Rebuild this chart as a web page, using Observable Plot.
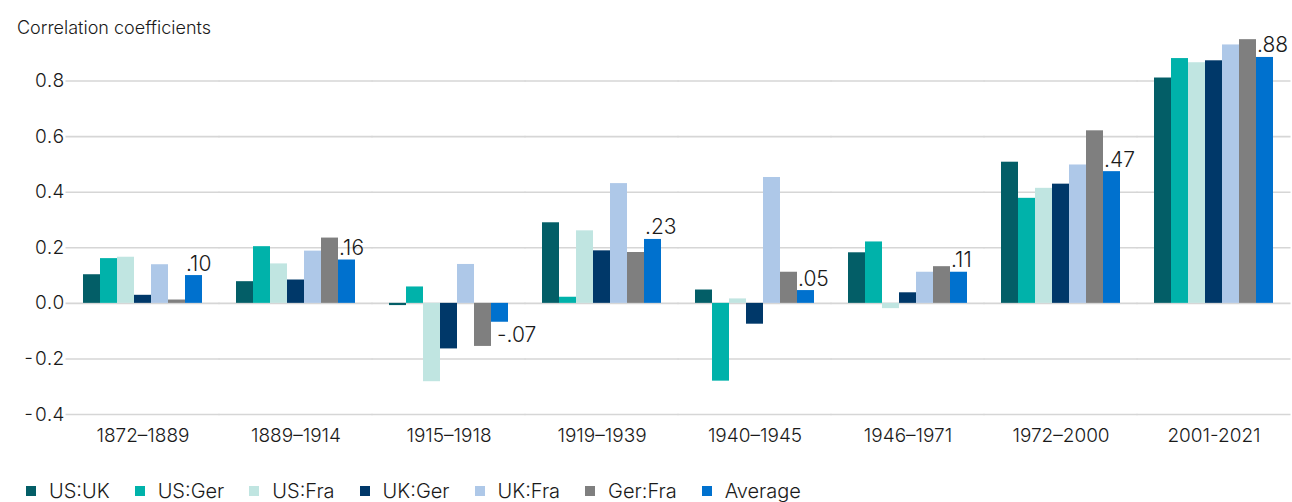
<!DOCTYPE html>
<html>
<head>
<meta charset="utf-8">
<script src="https://cdn.jsdelivr.net/npm/d3@7"></script>
<script src="https://cdn.jsdelivr.net/npm/@observablehq/plot@0.6"></script>
<style>
  body { margin: 0; background: #fff; font-family: Inter, "Liberation Sans", Arial, sans-serif; color: #1a1a1a; }
  #wrap { position: relative; width: 1292px; height: 502px; overflow: hidden; }
  #chart { position: absolute; left: 0; top: 0; }
  #title { position: absolute; left: 17px; top: 17px; font-size: 18px; font-weight: 300; color: #1a1a1a; }
  #legend { position: absolute; left: 26px; top: 479px; display: flex; align-items: center; font-size: 20px; font-weight: 300; color: #1a1a1a; line-height: 24px; }
  .item { display: flex; align-items: center; margin-right: 25px; }
  .sw { width: 10px; height: 10px; margin-right: 13px; }
  #chart svg text { font-weight: 300; }
</style>
</head>
<body>
<div id="wrap">
  <div id="chart"></div>
  <div id="title">Correlation coefficients</div>
  <div id="legend"></div>
</div>
<script>
const periods = ["1872–1889", "1889–1914", "1915–1918", "1919–1939", "1940–1945", "1946–1971", "1972–2000", "2001-2021"];
const series = ["US:UK", "US:Ger", "US:Fra", "UK:Ger", "UK:Fra", "Ger:Fra", "Average"];
const colors = ["#035e67", "#00b2aa", "#c0e5e1", "#003869", "#aec8e8", "#7f7f7f", "#0071ce"];

const usUK    = [0.103, 0.078, -0.008, 0.290,  0.048,  0.182, 0.508, 0.811];
const usGer   = [0.161, 0.204,  0.059, 0.022, -0.280,  0.221, 0.378, 0.881];
const usFra   = [0.166, 0.142, -0.282, 0.261,  0.016, -0.019, 0.414, 0.866];
const ukGer   = [0.029, 0.084, -0.164, 0.189, -0.075,  0.038, 0.429, 0.873];
const ukFra   = [0.139, 0.188,  0.140, 0.431,  0.453,  0.112, 0.498, 0.930];
const gerFra  = [0.012, 0.235, -0.155, 0.183,  0.112,  0.132, 0.621, 0.949];
const average = [0.100, 0.156, -0.068, 0.230,  0.046,  0.112, 0.474, 0.885];
const avgLabels = [".10", ".16", "-.07", ".23", ".05", ".11", ".47", ".88"];

const yTicks = [-0.4, -0.2, 0.0, 0.2, 0.4, 0.6, 0.8];

const seriesValues = [usUK, usGer, usFra, ukGer, ukFra, gerFra, average];
const rows = [];
seriesValues.forEach((vals, si) => {
  vals.forEach((v, pi) => rows.push({period: periods[pi], series: series[si], value: v}));
});
const labelRows = average.map((v, i) => ({period: periods[i], series: "Average", value: v, label: avgLabels[i]}));

const chart = Plot.plot({
  width: 1292,
  height: 460,
  marginTop: 25,
  marginBottom: 46,
  marginLeft: 65,
  marginRight: 0,
  style: {fontFamily: "Inter, 'Liberation Sans', Arial, sans-serif", fontSize: "19px", color: "#1a1a1a", background: "transparent"},
  fx: {domain: periods, paddingInner: 0.222, paddingOuter: 0.111, axis: "bottom", label: null, tickSize: 0, tickPadding: 14, fontSize: 20},
  x: {domain: series, axis: null, padding: 0},
  y: {domain: [-0.4, 1.0], ticks: yTicks, tickFormat: d => d.toFixed(1), tickSize: 0, tickPadding: 19, label: null, fontSize: 19},
  color: {domain: series, range: colors},
  marks: [
    Plot.ruleY(yTicks, {stroke: "#d6d6d6", strokeWidth: 1.6, insetLeft: -17.5, insetRight: -17.5}),
    Plot.barY(rows, {fx: "period", x: "series", y: "value", fill: "series"}),
    Plot.text(labelRows.filter(d => d.value >= 0), {fx: "period", x: "series", y: "value", text: "label", textAnchor: "start", lineAnchor: "bottom", dx: -8, dy: -5, fontSize: 21, fill: "#1a1a1a"}),
    Plot.text(labelRows.filter(d => d.value < 0), {fx: "period", x: "series", y: "value", text: "label", textAnchor: "start", lineAnchor: "top", dx: -3, dy: 5, fontSize: 21, fill: "#1a1a1a"})
  ]
});
document.getElementById("chart").appendChild(chart);

const legend = document.getElementById("legend");
series.forEach((s, i) => {
  const item = document.createElement("div");
  item.className = "item";
  const sw = document.createElement("span");
  sw.className = "sw";
  sw.style.background = colors[i];
  const t = document.createElement("span");
  t.textContent = s;
  item.appendChild(sw);
  item.appendChild(t);
  legend.appendChild(item);
});
</script>
</body>
</html>
